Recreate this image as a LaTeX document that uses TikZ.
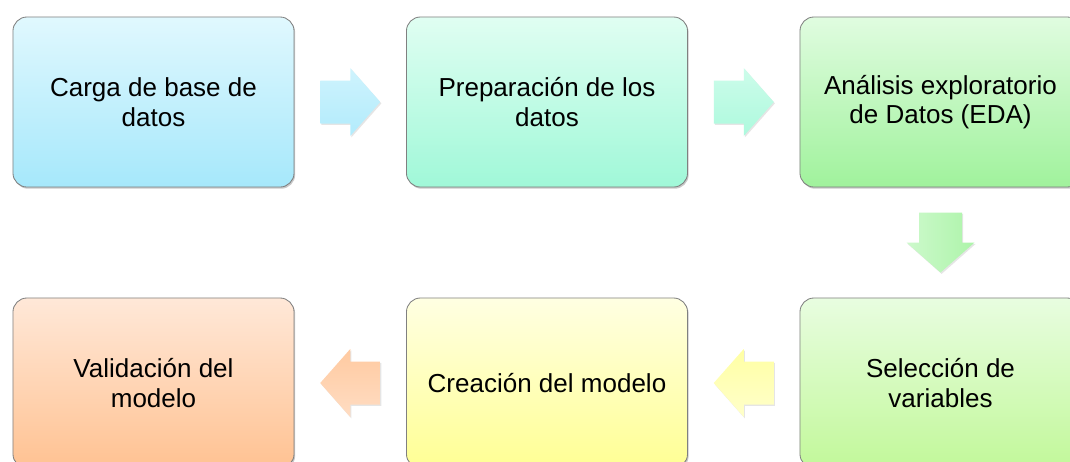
\documentclass[tikz,border=0pt]{standalone}
\usepackage{fontspec}
\setmainfont{Liberation Sans}
\usetikzlibrary{shadows,calc}
\definecolor{cianA}{HTML}{E0F8FE}
\definecolor{cianB}{HTML}{A6E8FB}
\definecolor{mentaA}{HTML}{E0FEF2}
\definecolor{mentaB}{HTML}{A0F8D8}
\definecolor{verdeA}{HTML}{E0FCE0}
\definecolor{verdeB}{HTML}{A0F29C}
\definecolor{limaA}{HTML}{E8FDE0}
\definecolor{limaB}{HTML}{C2F89A}
\definecolor{amarA}{HTML}{FFFFE2}
\definecolor{amarB}{HTML}{FFFF94}
\definecolor{durA}{HTML}{FFE8D8}
\definecolor{durB}{HTML}{FFC292}
\tikzset{
  etapa/.style={rounded corners=0.35cm, draw=black!50, line width=0.6pt,
    minimum width=7.025cm, minimum height=4.25cm, align=center,
    font=\fontsize{18.5}{21}\selectfont,
    drop shadow={shadow xshift=0.8pt, shadow yshift=-1.2pt, opacity=0.35, fill=black!60}},
  flecha/.pic={
    \shade[drop shadow={shadow xshift=0.8pt, shadow yshift=-1pt, opacity=0.2, fill=black!50}, pic actions]
      (-30,-21.5) -- (0,-21.5) -- (0,-34) -- (30,0) -- (0,34) -- (0,21.5) -- (-30,21.5) -- cycle;
  }
}
\begin{document}
\begin{tikzpicture}[x=0.025cm, y=-0.025cm]
\clip (0,0) rectangle (1070,461);
\fill[white] (0,0) rectangle (1070,461);
%First row
\node[etapa, top color=cianA, bottom color=cianB] (carga) at (153.5,102) {Carga de base de\\datos};
\node[etapa, top color=mentaA, bottom color=mentaB] (prep) at (547,102) {Preparación de los\\datos};
\node[etapa, top color=verdeA, bottom color=verdeB] (eda) at (940.5,102) {Análisis exploratorio\\de Datos (EDA)};
%Second row
\node[etapa, top color=limaA, bottom color=limaB] (selec) at (940.5,383) {Selección de\\variables};
\node[etapa, top color=amarA, bottom color=amarB] (crea) at (547,383) {Creación del modelo};
\node[etapa, top color=durA, bottom color=durB] (valid) at (153.5,383) {Validación del\\modelo};
%Block arrows
\pic[top color=cianA!70!cianB, bottom color=cianB!80!cianA] (f1) at ($(carga.east)!0.5!(prep.west)$) {flecha};
\pic[top color=mentaA!70!mentaB, bottom color=mentaB!80!mentaA] (f2) at ($(prep.east)!0.5!(eda.west)$) {flecha};
\pic[rotate=-90, left color=verdeA!70!verdeB, right color=verdeB!80!verdeA] (f3) at ($(eda.south)!0.5!(selec.north)$) {flecha};
\pic[rotate=180, bottom color=amarA!70!amarB, top color=amarB!80!amarA] (f4) at ($(selec.west)!0.5!(crea.east)$) {flecha};
\pic[rotate=180, bottom color=durA!70!durB, top color=durB!80!durA] (f5) at ($(crea.west)!0.5!(valid.east)$) {flecha};
\end{tikzpicture}
\end{document}
